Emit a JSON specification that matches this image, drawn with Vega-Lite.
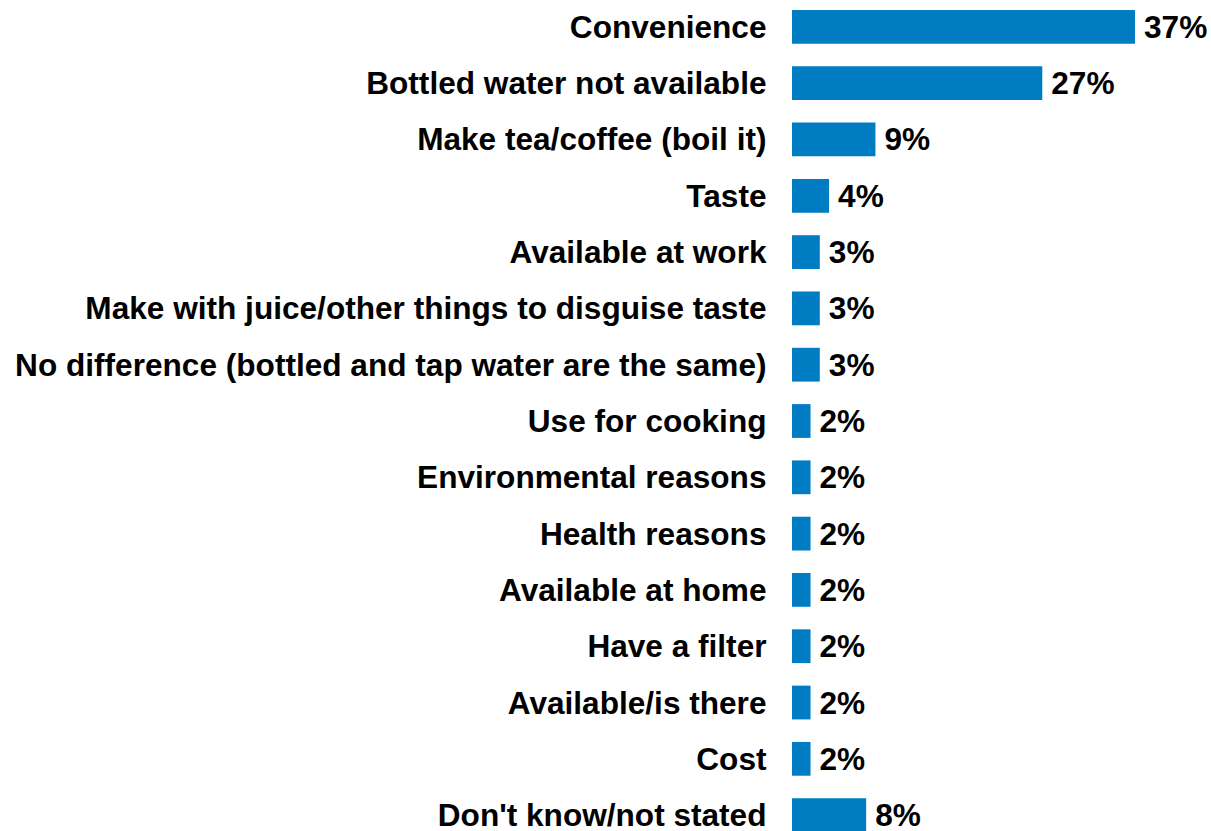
{
  "$schema": "https://vega.github.io/schema/vega-lite/v6.json",
  "autosize": {"type": "none"},
  "width": 419,
  "height": 831,
  "padding": {"left": 792, "top": 0, "right": 0, "bottom": 0},
  "background": "white",
  "config": {"view": {"stroke": null}, "font": "Liberation Sans"},
  "data": {"values": [
    {"reason": "Convenience", "pct": 37},
    {"reason": "Bottled water not available", "pct": 27},
    {"reason": "Make tea/coffee (boil it)", "pct": 9},
    {"reason": "Taste", "pct": 4},
    {"reason": "Available at work", "pct": 3},
    {"reason": "Make with juice/other things to disguise taste", "pct": 3},
    {"reason": "No difference (bottled and tap water are the same)", "pct": 3},
    {"reason": "Use for cooking", "pct": 2},
    {"reason": "Environmental reasons", "pct": 2},
    {"reason": "Health reasons", "pct": 2},
    {"reason": "Available at home", "pct": 2},
    {"reason": "Have a filter", "pct": 2},
    {"reason": "Available/is there", "pct": 2},
    {"reason": "Cost", "pct": 2},
    {"reason": "Don't know/not stated", "pct": 8}
  ]},
  "encoding": {
    "y": {
      "field": "reason", "type": "nominal", "sort": null,
      "scale": {"range": [0, 842], "paddingInner": 0.4, "paddingOuter": 0.177},
      "axis": {"title": null, "domain": false, "ticks": false, "labelPadding": 26,
        "labelFontSize": 31.6, "labelFontWeight": "bold", "labelColor": "black",
        "labelFont": "Liberation Sans", "labelLimit": 1000, "labelOffset": 2}
    },
    "x": {
      "field": "pct", "type": "quantitative",
      "scale": {"domain": [0, 45.2], "nice": false, "zero": true},
      "axis": null
    }
  },
  "layer": [
    {"mark": {"type": "bar", "color": "#007CC3"}},
    {"transform": [{"calculate": "datum.pct + '%'", "as": "label"}],
     "mark": {"type": "text", "align": "left", "baseline": "middle", "dx": 9, "dy": 2,
      "fontSize": 31.6, "fontWeight": "bold", "color": "black", "font": "Liberation Sans"},
     "encoding": {"text": {"field": "label", "type": "nominal"}}}
  ]
}
